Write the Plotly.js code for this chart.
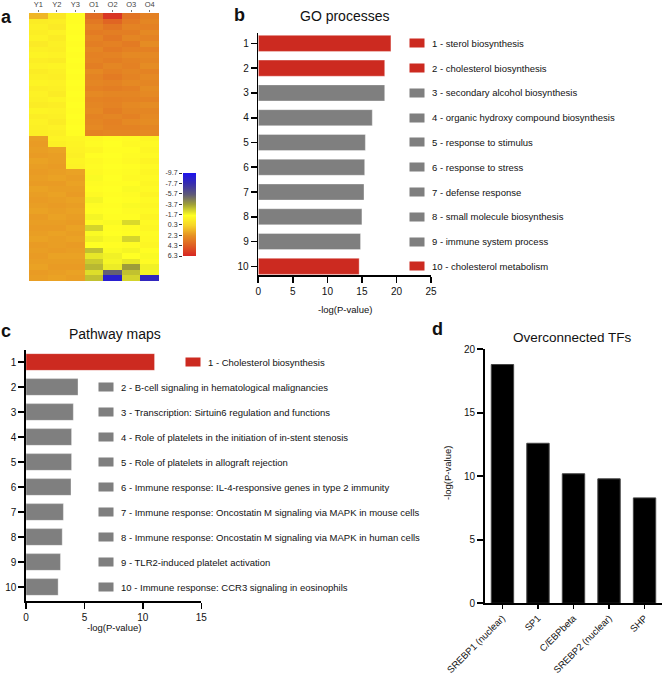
<!DOCTYPE html>
<html>
<head>
<meta charset="utf-8">
<script src="https://cdn.plot.ly/plotly-3.0.1.min.js"></script>
<style>
  body { margin: 0; background: #fff; }
  #my_graph { width: 664px; height: 674px; }
</style>
</head>
<body>
<div id="my_graph"></div>
<script>
// ---- panel a: heatmap ----
const heatCols = ['Y1', 'Y2', 'Y3', 'O1', 'O2', 'O3', 'O4'];
const heatRows = [
    [1.2, -0.6, -1.6, 3.6, 5.6, 3.4, 2.9],
    [-0.8, -0.9, -1.6, 3.2, 3.9, 3.1, 2.7],
    [-1.0, -0.7, -1.7, 2.9, 3.3, 2.8, 2.9],
    [-0.9, -1.1, -1.6, 3.1, 3.0, 3.0, 2.6],
    [-1.1, -0.8, -1.7, 2.8, 3.2, 2.7, 2.8],
    [-0.7, -1.0, -1.6, 3.0, 2.9, 3.1, 2.5],
    [-1.0, -0.9, -1.7, 2.7, 3.1, 2.9, 2.9],
    [-1.2, -1.1, -1.6, 2.9, 2.8, 2.6, 2.6],
    [-0.9, -0.8, -1.7, 2.8, 3.0, 2.8, 2.7],
    [-1.1, -1.2, -1.6, 3.0, 2.7, 2.9, 2.5],
    [-0.8, -1.0, -1.7, 2.6, 2.9, 2.7, 2.8],
    [-1.0, -0.9, -1.6, 2.8, 3.1, 2.8, 2.6],
    [-1.2, -1.1, -1.7, 2.7, 2.8, 2.6, 2.7],
    [-0.9, -1.0, -1.6, 2.9, 3.0, 2.9, 2.5],
    [-1.1, -0.8, -1.7, 2.6, 2.7, 2.7, 2.6],
    [-1.0, -1.2, -1.6, 2.8, 2.9, 2.8, 2.8],
    [-0.8, -0.9, -1.7, 2.7, 2.8, 2.6, 2.5],
    [-1.2, -1.1, -1.6, 2.6, 3.0, 2.7, 2.7],
    [-0.9, -1.0, -1.7, 2.8, 2.7, 2.9, 2.6],
    [-1.1, -0.8, -1.6, 2.7, 2.9, 2.6, 2.5],
    [-1.0, -1.1, -1.7, 2.6, 2.8, 2.8, 2.7],
    [-0.9, -1.0, -1.6, 2.8, 2.7, 2.7, 2.6],
    [1.9, -1.2, -1.3, -1.4, -1.6, -1.5, -1.3],
    [2.0, -1.0, -1.2, -1.5, -1.7, -1.4, -1.4],
    [1.9, 1.8, -1.1, -1.3, -1.6, -1.6, -1.3],
    [2.0, 1.9, -1.0, -1.6, -1.7, -1.5, -1.4],
    [1.8, 1.9, -1.2, -1.4, -1.6, -1.4, -1.2],
    [1.9, 2.0, -1.1, -1.5, -1.7, -1.6, -1.4],
    [2.0, 1.9, 1.8, -1.4, -1.6, -1.5, -1.3],
    [1.9, 1.8, 1.9, -1.8, -1.7, -1.4, -1.4],
    [2.0, 2.0, 1.8, -1.5, -1.6, -1.6, -1.3],
    [1.8, 1.9, 1.9, -1.6, -1.7, -1.8, -1.4],
    [1.9, 1.8, 2.0, -1.4, -1.6, -1.5, -1.2],
    [2.0, 1.9, 1.8, -1.9, -1.7, -1.6, -1.4],
    [1.9, 2.0, 1.9, -1.5, -1.6, -1.8, -1.3],
    [1.8, 1.9, 1.8, -1.6, -1.7, -1.5, -1.4],
    [2.0, 1.8, 1.9, -1.9, -1.6, -1.6, -1.2],
    [1.9, 1.9, 2.0, -1.5, -1.8, -2.5, -1.4],
    [2.0, 2.0, 1.8, -2.6, -1.6, -1.5, -1.3],
    [1.9, 1.8, 1.9, -1.8, -1.7, -1.6, -1.5],
    [1.8, 1.9, 1.8, -2.0, -1.8, -2.6, -1.4],
    [2.0, 1.9, 2.0, -1.7, -1.6, -1.5, -1.3],
    [1.9, 2.0, 1.9, -3.0, -1.8, -1.9, -1.6],
    [2.0, 1.8, 1.8, -2.2, -2.0, -1.7, -1.8],
    [1.9, 1.9, 1.9, -2.8, -1.9, -2.2, -1.5],
    [1.8, 2.0, 2.0, -3.2, -2.1, -3.8, -2.0],
    [2.0, 1.9, 1.8, -2.4, -5.5, -3.0, -1.9],
    [1.9, 1.8, 1.9, -3.0, -8.8, -2.6, -8.2]
];
const scaleTicks = [-9.7, -7.7, -5.7, -3.7, -1.7, 0.3, 2.3, 4.3, 6.3];

// ---- panel b: GO processes ----
const goRank = [1, 2, 3, 4, 5, 6, 7, 8, 9, 10];
const goLabels = ['sterol biosynthesis', 'cholesterol biosynthesis', 'secondary alcohol biosynthesis',
    'organic hydroxy compound biosynthesis', 'response to stimulus', 'response to stress',
    'defense response', 'small molecule biosynthesis', 'immune system process', 'cholesterol metabolism'];
const goValues = [19.2, 18.3, 18.3, 16.5, 15.5, 15.4, 15.3, 15.0, 14.8, 14.6];
const goHighlight = [true, true, false, false, false, false, false, false, false, true];

// ---- panel c: Pathway maps ----
const pathRank = [1, 2, 3, 4, 5, 6, 7, 8, 9, 10];
const pathLabels = ['Cholesterol biosynthesis', 'B-cell signaling in hematological malignancies',
    'Transcription: Sirtuin6 regulation and functions', 'Role of platelets in the initiation of in-stent stenosis',
    'Role of platelets in allograft rejection', 'Immune response: IL-4-responsive genes in type 2 immunity',
    'Immune response: Oncostatin M signaling via MAPK in mouse cells',
    'Immune response: Oncostatin M signaling via MAPK in human cells',
    'TLR2-induced platelet activation', 'Immune response: CCR3 signaling in eosinophils'];
const pathValues = [11.0, 4.45, 4.05, 3.9, 3.9, 3.85, 3.2, 3.1, 2.95, 2.75];
const pathHighlight = [true, false, false, false, false, false, false, false, false, false];

// ---- panel d: Overconnected TFs ----
const tfNames = ['SREBP1 (nuclear)', 'SP1', 'C/EBPbeta', 'SREBP2 (nuclear)', 'SHP'];
const tfValues = [18.8, 12.6, 10.2, 9.8, 8.3];

const W = 664, H = 674;
const px = v => v / W;
const py = v => 1 - v / H;
const RED = '#cc2a20', GREY = '#7f7f7f';
const FONT = 'Liberation Sans, Arial, sans-serif';

const colorscale = [
    [0.0, 'rgb(30,20,235)'],
    [0.125, 'rgb(55,45,175)'],
    [0.25, 'rgb(95,90,120)'],
    [0.375, 'rgb(160,160,55)'],
    [0.5, 'rgb(255,255,35)'],
    [0.625, 'rgb(247,212,40)'],
    [0.75, 'rgb(230,145,35)'],
    [0.875, 'rgb(222,90,35)'],
    [1.0, 'rgb(215,35,35)']
];

const data = [
    {
        type: 'heatmap', x: heatCols, z: heatRows, xaxis: 'x', yaxis: 'y',
        colorscale: colorscale, zmin: -9.7, zmax: 6.3, showscale: false, hoverinfo: 'skip'
    },
    {
        // colour key drawn as its own little heatmap so labels sit on the left
        type: 'heatmap', x: [0, 1], y: scaleTicks, z: scaleTicks.map(v => [v, v]),
        xaxis: 'x5', yaxis: 'y5', zsmooth: 'best',
        colorscale: colorscale, zmin: -9.7, zmax: 6.3, showscale: false, hoverinfo: 'skip'
    },
    {
        type: 'bar', orientation: 'h', x: goValues, y: goRank, xaxis: 'x2', yaxis: 'y2', width: 0.65,
        marker: {color: goHighlight.map(h => h ? RED : GREY), line: {color: 'rgba(255,255,255,0.35)', width: 1}},
        hoverinfo: 'skip'
    },
    {
        type: 'bar', orientation: 'h', x: pathValues, y: pathRank, xaxis: 'x3', yaxis: 'y3', width: 0.67,
        marker: {color: pathHighlight.map(h => h ? RED : GREY), line: {color: 'rgba(255,255,255,0.35)', width: 1}},
        hoverinfo: 'skip'
    },
    {
        type: 'bar', x: tfNames, y: tfValues, xaxis: 'x4', yaxis: 'y4', width: 0.63,
        marker: {color: '#000', line: {color: '#444', width: 1}},
        hoverinfo: 'skip'
    }
];

const barAxis = {
    showgrid: false, zeroline: false, showline: true, linecolor: '#000', linewidth: 1.6,
    ticks: 'outside', ticklen: 6, tickwidth: 1.6, tickcolor: '#000',
    tickfont: {size: 10, color: '#111', family: FONT}
};

const layout = {
    width: W, height: H,
    margin: {l: 0, r: 0, t: 0, b: 0},
    paper_bgcolor: '#fff', plot_bgcolor: '#fff',
    showlegend: false,
    font: {family: FONT, color: '#111'},
    // a
    xaxis: {
        domain: [px(29), px(159)], side: 'top', showgrid: false, zeroline: false,
        ticks: 'outside', ticklen: 2, tickcolor: '#777', tickfont: {size: 7.5, color: '#444'}
    },
    yaxis: {domain: [py(281), py(13)], autorange: 'reversed', visible: false},
    xaxis5: {domain: [px(183), px(196)], range: [0, 1], visible: false, anchor: 'y5'},
    yaxis5: {
        domain: [py(256), py(173)], range: [6.3, -9.7], anchor: 'x5', showgrid: false, zeroline: false,
        tickvals: scaleTicks, ticktext: scaleTicks.map(v => v.toFixed(1)),
        ticks: 'outside', ticklen: 3, tickcolor: '#333', tickfont: {size: 7, color: '#333'}
    },
    // b
    xaxis2: Object.assign({}, barAxis, {domain: [px(258.3), px(431)], range: [0, 25], dtick: 5, anchor: 'y2'}),
    yaxis2: Object.assign({}, barAxis, {domain: [py(275), py(33)], range: [10.35, 0.58], dtick: 1, anchor: 'x2'}),
    // c
    xaxis3: Object.assign({}, barAxis, {domain: [px(26), px(201.3)], range: [0, 15], dtick: 5, anchor: 'y3'}),
    yaxis3: Object.assign({}, barAxis, {domain: [py(601), py(350)], range: [10.56, 0.52], dtick: 1, anchor: 'x3'}),
    // d
    xaxis4: Object.assign({}, barAxis, {domain: [px(484.7), px(662.3)], range: [-0.5, 4.5], anchor: 'y4',
        tickangle: -45, ticklen: 4, tickfont: {size: 9.5, color: '#111', family: FONT}}),
    yaxis4: Object.assign({}, barAxis, {domain: [py(603.3), py(349.3)], range: [0, 20], dtick: 5, anchor: 'x4'}),
    annotations: []
};

const ann = layout.annotations;
const addText = (x, y, text, size, extra) => ann.push(Object.assign({
    xref: 'paper', yref: 'paper', x: px(x), y: py(y), xanchor: 'center', yanchor: 'middle',
    text: text, showarrow: false,
    font: {size: size, color: '#111', family: FONT}
}, extra || {}));

// panel letters
addText(7, 17.5, '<b>a</b>', 18);
addText(239, 15.5, '<b>b</b>', 18);
addText(6, 331, '<b>c</b>', 18);
addText(437, 329, '<b>d</b>', 18);

// titles
addText(344, 16, 'GO processes', 14);
addText(115, 334, 'Pathway maps', 14);
addText(572.5, 337, 'Overconnected TFs', 13.5);

// axis titles
addText(344.6, 309, '-log(P-value)', 9.5);
addText(113.8, 627, '-log(P-value)', 9.5);
addText(447, 473, '-log(P-value)', 9.5, {textangle: -90});

// legends beside the bars
const addLegend = (ranks, labels, highlight, yref, swatchX, textX, swatchX1, textX1) => {
    ranks.forEach((r, i) => {
        const sx = (i === 0 && swatchX1) ? swatchX1 : swatchX;
        const tx = (i === 0 && textX1) ? textX1 : textX;
        ann.push({
            xref: 'paper', yref: yref, x: px(sx), y: r, xanchor: 'center', yanchor: 'middle',
            text: ' ', showarrow: false,
            width: 14, height: 8, borderpad: 0, bgcolor: highlight[i] ? RED : GREY,
            font: {size: 5}
        });
        ann.push({
            xref: 'paper', yref: yref, x: px(tx), y: r, xanchor: 'left', yanchor: 'middle', showarrow: false,
            text: r + ' - ' + labels[i], font: {size: 9.5, color: '#111', family: FONT}
        });
    });
};
addLegend(goRank, goLabels, goHighlight, 'y2', 417, 429.5);
addLegend(pathRank, pathLabels, pathHighlight, 'y3', 106, 118.5, 192.8, 205.5);

Plotly.newPlot('my_graph', data, layout, {staticPlot: true});
</script>
</body>
</html>
